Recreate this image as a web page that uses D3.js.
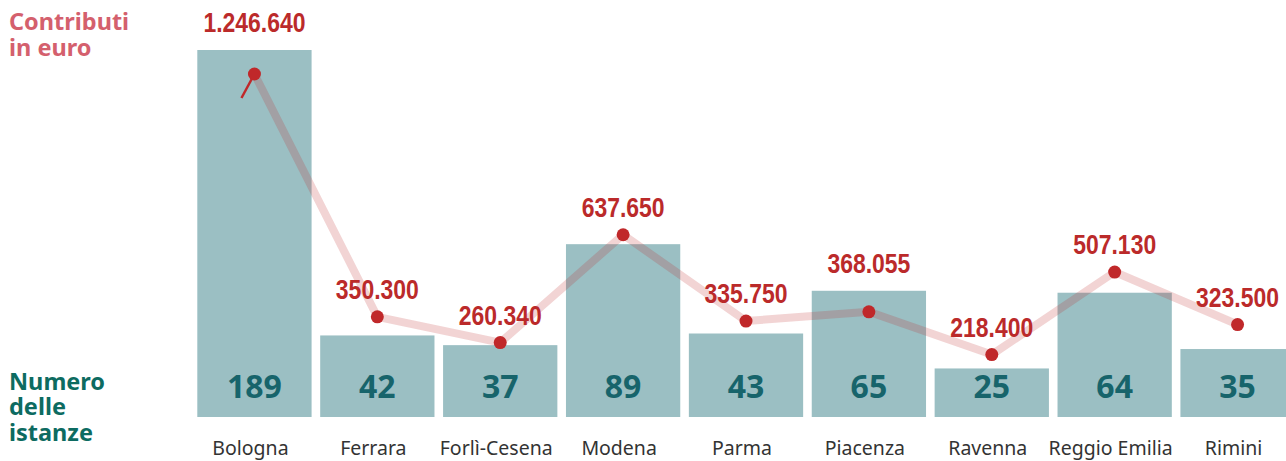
<!DOCTYPE html>
<html>
<head>
<meta charset="utf-8">
<script src="https://cdn.jsdelivr.net/npm/d3@7"></script>
<style>
  body { margin: 0; background: #fff; }
  svg { display: block; }
</style>
</head>
<body>
<div class="chart"></div>
<script>
// province + values
const province = ["Bologna", "Ferrara", "Forlì-Cesena", "Modena", "Parma", "Piacenza", "Ravenna", "Reggio Emilia", "Rimini"];
const istanze = [189, 42, 37, 89, 43, 65, 25, 64, 35];
const contributi = [1246640, 350300, 260340, 637650, 335750, 368055, 218400, 507130, 323500];

const width = 1286, height = 461;
const bottom = 417;

const svg = d3.select(".chart").append("svg")
  .attr("width", width)
  .attr("height", height)
  .attr("viewBox", [0, 0, width, height]);

const x = d3.scaleBand()
  .domain(province)
  .range([193, 1299])
  .paddingInner(0.07)
  .paddingOuter(0.035);

// bars: count of applications
const yBar = d3.scaleLinear()
  .domain([0, 189])
  .range([bottom, 50]);

// line: euro, top value clamped (broken scale)
const yLine = d3.scaleLinear()
  .domain([0, 1200000])
  .range([bottom, 74])
  .clamp(true);

const data = province.map((p, i) => ({ p, n: istanze[i], eur: contributi[i] }));
const fmt = d3.formatLocale({ decimal: ",", thousands: ".", grouping: [3], currency: ["", "€"] }).format(",");

svg.selectAll(".bar")
  .data(data)
  .join("rect")
  .attr("class", "bar")
  .attr("x", d => x(d.p))
  .attr("y", d => yBar(d.n))
  .attr("width", x.bandwidth())
  .attr("height", d => bottom - yBar(d.n))
  .attr("fill", "#9bbfc3");

svg.selectAll(".count")
  .data(data)
  .join("text")
  .attr("class", "count")
  .attr("x", d => x(d.p) + x.bandwidth() / 2)
  .attr("y", 398)
  .attr("text-anchor", "middle")
  .style("font-family", "'Noto Sans', sans-serif")
  .style("font-weight", 700)
  .style("font-size", "32px")
  .attr("fill", "#17646b")
  .text(d => d.n);

// category axis labels
svg.selectAll(".cat")
  .data(data)
  .join("text")
  .attr("class", "cat")
  .attr("x", d => x(d.p) + x.bandwidth() / 2 - 4)
  .attr("y", 455)
  .attr("text-anchor", "middle")
  .style("font-family", "'Noto Sans', sans-serif")
  .style("font-size", "19.5px")
  .attr("fill", "#333")
  .text(d => d.p);

const cx = d => x(d.p) + x.bandwidth() / 2;

const line = d3.line()
  .x(cx)
  .y(d => yLine(d.eur));

svg.append("path")
  .datum(data)
  .attr("d", line)
  .attr("fill", "none")
  .attr("stroke", "#c0282a")
  .attr("stroke-opacity", 0.2)
  .attr("stroke-width", 8)
  .attr("stroke-linejoin", "round");

// little break tick for the clamped value
svg.selectAll(".brk")
  .data(data.filter(d => d.eur > yLine.domain()[1]))
  .join("line")
  .attr("x1", cx)
  .attr("y1", d => yLine(d.eur))
  .attr("x2", d => cx(d) - 13)
  .attr("y2", d => yLine(d.eur) + 24)
  .attr("stroke", "#c0282a")
  .attr("stroke-width", 2.5);

svg.selectAll(".dot")
  .data(data)
  .join("circle")
  .attr("class", "dot")
  .attr("cx", cx)
  .attr("cy", d => yLine(d.eur))
  .attr("r", 6.5)
  .attr("fill", "#c0282a");

// condensed look: squeeze Liberation Sans bold horizontally
svg.selectAll(".eur")
  .data(data)
  .join("text")
  .attr("class", "eur")
  .attr("transform", d => `translate(${cx(d)},${Math.min(yLine(d.eur), yBar(d.n)) - 18}) scale(0.82,1)`)
  .attr("text-anchor", "middle")
  .style("font-family", "'Liberation Sans', Arial, sans-serif")
  .style("font-weight", 700)
  .style("font-size", "28px")
  .attr("fill", "#bb2a2a")
  .text(d => fmt(d.eur));

// left side titles
const t1 = svg.append("text")
  .style("font-family", "'Noto Sans', sans-serif")
  .style("font-weight", 700)
  .style("font-size", "23.5px")
  .attr("fill", "#d4606d");
t1.append("tspan").attr("x", 9).attr("y", 30).text("Contributi");
t1.append("tspan").attr("x", 9).attr("y", 56).text("in euro");

const t2 = svg.append("text")
  .style("font-family", "'Noto Sans', sans-serif")
  .style("font-weight", 700)
  .style("font-size", "23.5px")
  .attr("fill", "#0d6b61");
t2.append("tspan").attr("x", 9).attr("y", 390).text("Numero");
t2.append("tspan").attr("x", 9).attr("y", 415).text("delle");
t2.append("tspan").attr("x", 9).attr("y", 441).text("istanze");
</script>
</body>
</html>
